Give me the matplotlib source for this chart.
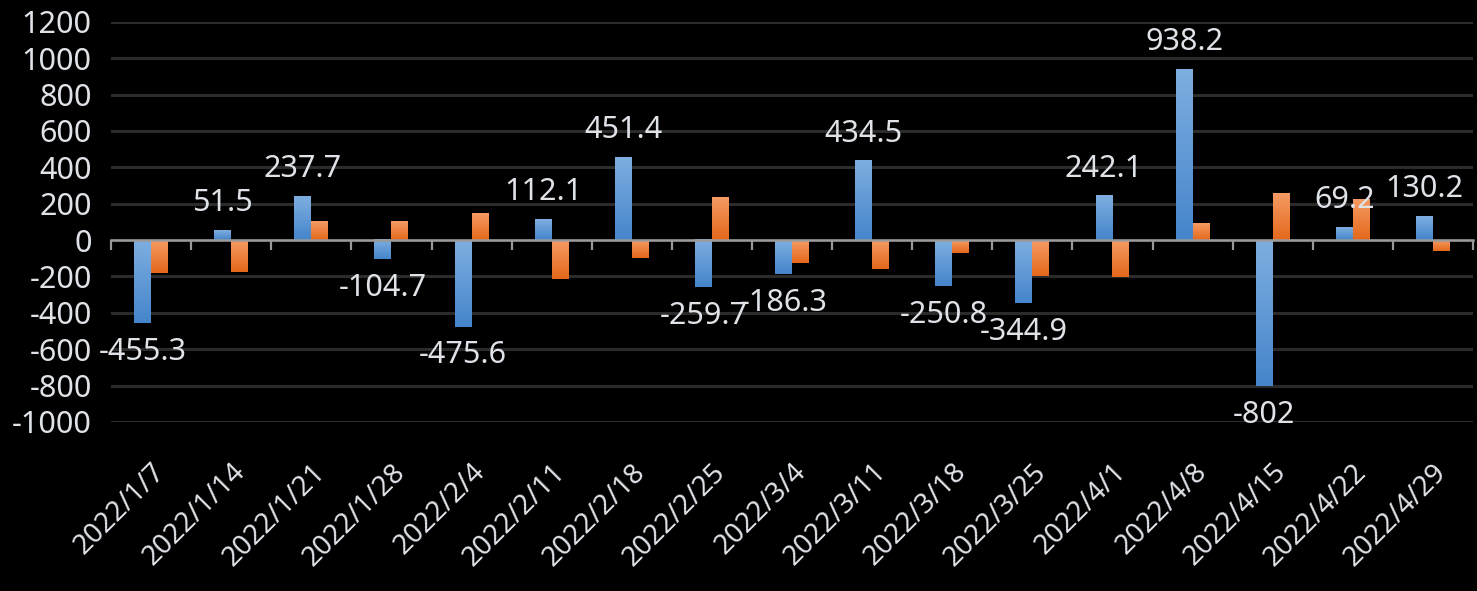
import numpy as np
import matplotlib
matplotlib.use('Agg')
import matplotlib.pyplot as plt
from matplotlib.colors import LinearSegmentedColormap

plt.rcParams['font.family'] = ['Noto Sans', 'DejaVu Sans']
plt.rcParams['axes.unicode_minus'] = False

# weekly data
dates = ['2022/1/7', '2022/1/14', '2022/1/21', '2022/1/28', '2022/2/4', '2022/2/11',
         '2022/2/18', '2022/2/25', '2022/3/4', '2022/3/11', '2022/3/18', '2022/3/25',
         '2022/4/1', '2022/4/8', '2022/4/15', '2022/4/22', '2022/4/29']
blue_vals = [-455.3, 51.5, 237.7, -104.7, -475.6, 112.1, 451.4, -259.7, -186.3,
             434.5, -250.8, -344.9, 242.1, 938.2, -802, 69.2, 130.2]
orange_vals = [-180, -174, 99, 104, 148, -213, -97, 231, -126, -158, -70, -196,
               -202, 88, 253, 220, -59]
yticks = [-1000, -800, -600, -400, -200, 0, 200, 400, 600, 800, 1000, 1200]

txt_col = '#dfe3e8'
blue_cmap = LinearSegmentedColormap.from_list('b', ['#4585cb', '#7eaee0'])
orange_cmap = LinearSegmentedColormap.from_list('o', ['#e4681b', '#f59b64'])

fig = plt.figure(figsize=(14.77, 5.91), dpi=100, facecolor='black')
ax = fig.add_axes([0.0752, 0.286, 0.9221, 0.6772], facecolor='black')

x = np.arange(len(dates))
w = 0.212
bars_b = ax.bar(x - w / 2, blue_vals, w, color='none', zorder=3)
bars_o = ax.bar(x + w / 2, orange_vals, w, color='none', zorder=3)

ax.set_xlim(-0.5, len(dates) - 0.5)
ax.set_ylim(-1000, 1200)
ax.autoscale(False)

# vertical gradient fill per bar (light at top)
grad = np.linspace(0, 1, 100).reshape(-1, 1)
for bars, cm in [(bars_b, blue_cmap), (bars_o, orange_cmap)]:
    for p in bars:
        x0, y0 = p.get_x(), p.get_y()
        x1, y1 = x0 + p.get_width(), y0 + p.get_height()
        ax.imshow(grad, cmap=cm, origin='lower', aspect='auto', zorder=3,
                  extent=[x0, x1, min(y0, y1), max(y0, y1)], interpolation='bicubic')

ax.set_xlim(-0.5, len(dates) - 0.5)
ax.set_ylim(-1000, 1200)

# data labels on the blue series
for xi, v in zip(x, blue_vals):
    lab = ('%g' % v)
    if v >= 0:
        ax.annotate(lab, (xi - w / 2, v), xytext=(0, 14), textcoords='offset points',
                    ha='center', va='baseline', color=txt_col, fontsize=22, zorder=5)
    else:
        ax.annotate(lab, (xi - w / 2, v), xytext=(0, -10), textcoords='offset points',
                    ha='center', va='top', color=txt_col, fontsize=22, zorder=5)

ax.set_yticks(yticks)
ax.yaxis.grid(True, color='#2b2b2b', linewidth=2.2, zorder=0)
ax.set_axisbelow(True)
ax.tick_params(axis='y', length=0, pad=14, labelsize=22, labelcolor=txt_col)
for s in ax.spines.values():
    s.set_visible(False)

ax.set_xticks(x)
ax.set_xticklabels(dates, rotation=45, ha='right', rotation_mode='anchor')
ax.tick_params(axis='x', length=0, pad=26, labelsize=20, labelcolor=txt_col)

# category axis line at zero with boundary ticks
sec = ax.secondary_xaxis(0, transform=ax.transData)
sec.set_xticks(np.arange(len(dates) + 1) - 0.5)
sec.set_xticklabels([])
sec.tick_params(axis='x', direction='out', length=7.5, width=1.6, color='#9a9a9a')
sec.spines['bottom'].set_color('#9a9a9a')
sec.spines['bottom'].set_linewidth(1.8)
sec.set_zorder(4)

fig.savefig('out.png', dpi=100, facecolor='black')
